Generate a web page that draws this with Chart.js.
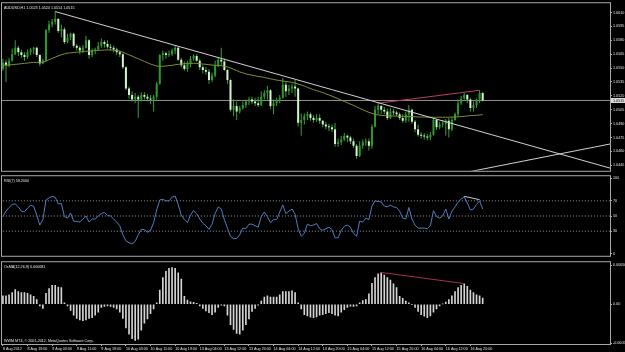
<!DOCTYPE html>
<html>
<head>
<meta charset="utf-8">
<script src="https://cdn.jsdelivr.net/npm/chart.js@4.4.1/dist/chart.umd.min.js"></script>
<style>
  html, body { margin: 0; padding: 0; background: #000; }
  #wrap { position: relative; width: 625px; height: 352px; overflow: hidden; background: #000; }
  canvas { position: absolute; left: 0; }
</style>
</head>
<body>
<div id="wrap">
  <canvas id="main" width="625" height="174" style="top:0"></canvas>
  <canvas id="rsi" width="625" height="86" style="top:173px"></canvas>
  <canvas id="osma" width="625" height="93" style="top:259px"></canvas>
</div>
<script>
'use strict';

// AUDUSD H1 bars, 8 Aug 2012 .. 16 Aug 2012
const open = [1.0549,1.0556,1.0553,1.0558,1.0565,1.0572,1.0567,1.0564,1.0562,1.0567,
  1.0570,1.0572,1.0564,1.0555,1.0558,1.0591,1.0597,1.0600,1.0603,1.0590,
  1.0592,1.0578,1.0583,1.0587,1.0574,1.0572,1.0569,1.0572,1.0580,1.0564,
  1.0569,1.0570,1.0574,1.0578,1.0576,1.0573,1.0572,1.0570,1.0567,1.0565,
  1.0551,1.0528,1.0521,1.0516,1.0519,1.0516,1.0521,1.0519,1.0517,1.0516,
  1.0519,1.0533,1.0564,1.0566,1.0564,1.0565,1.0569,1.0572,1.0559,1.0553,
  1.0549,1.0555,1.0560,1.0563,1.0558,1.0551,1.0548,1.0546,1.0537,1.0542,
  1.0553,1.0559,1.0557,1.0548,1.0537,1.0505,1.0509,1.0503,1.0507,1.0510,
  1.0514,1.0516,1.0514,1.0512,1.0510,1.0519,1.0523,1.0526,1.0509,1.0512,
  1.0516,1.0518,1.0532,1.0525,1.0528,1.0530,1.0528,1.0491,1.0494,1.0498,
  1.0500,1.0496,1.0494,1.0496,1.0493,1.0489,1.0487,1.0486,1.0484,1.0468,
  1.0470,1.0473,1.0477,1.0475,1.0471,1.0466,1.0455,1.0466,1.0470,1.0471,
  1.0466,1.0487,1.0505,1.0509,1.0505,1.0503,1.0496,1.0503,1.0502,1.0500,
  1.0496,1.0493,1.0500,1.0505,1.0492,1.0484,1.0478,1.0477,1.0476,1.0475,
  1.0478,1.0494,1.0486,1.0489,1.0490,1.0493,1.0484,1.0494,1.0500,1.0512,
  1.0517,1.0521,1.0516,1.0507,1.0510,1.0516,1.0523];
const high = [1.0560,1.0559,1.0561,1.0571,1.0580,1.0574,1.0570,1.0567,1.0570,1.0572,
  1.0573,1.0573,1.0565,1.0560,1.0592,1.0601,1.0603,1.0611,1.0604,1.0597,
  1.0594,1.0587,1.0588,1.0588,1.0576,1.0574,1.0575,1.0585,1.0581,1.0571,
  1.0572,1.0578,1.0582,1.0580,1.0580,1.0576,1.0574,1.0572,1.0569,1.0566,
  1.0552,1.0530,1.0525,1.0523,1.0521,1.0524,1.0524,1.0522,1.0521,1.0521,
  1.0535,1.0565,1.0569,1.0568,1.0569,1.0571,1.0575,1.0573,1.0561,1.0557,
  1.0558,1.0563,1.0565,1.0565,1.0560,1.0553,1.0551,1.0549,1.0545,1.0558,
  1.0562,1.0572,1.0560,1.0549,1.0538,1.0516,1.0514,1.0509,1.0514,1.0516,
  1.0519,1.0519,1.0518,1.0519,1.0525,1.0526,1.0531,1.0527,1.0516,1.0518,
  1.0521,1.0539,1.0535,1.0532,1.0533,1.0537,1.0529,1.0501,1.0501,1.0503,
  1.0502,1.0499,1.0500,1.0500,1.0494,1.0492,1.0490,1.0489,1.0491,1.0474,
  1.0477,1.0480,1.0478,1.0477,1.0474,1.0468,1.0471,1.0473,1.0474,1.0474,
  1.0489,1.0509,1.0512,1.0510,1.0508,1.0506,1.0507,1.0506,1.0504,1.0502,
  1.0500,1.0503,1.0510,1.0506,1.0494,1.0489,1.0481,1.0480,1.0479,1.0481,
  1.0496,1.0495,1.0492,1.0494,1.0495,1.0496,1.0497,1.0502,1.0516,1.0520,
  1.0523,1.0522,1.0518,1.0514,1.0517,1.0526,1.0524];
const low = [1.0547,1.0535,1.0551,1.0557,1.0564,1.0563,1.0561,1.0558,1.0560,1.0564,
  1.0565,1.0562,1.0552,1.0554,1.0557,1.0588,1.0594,1.0597,1.0588,1.0583,
  1.0576,1.0577,1.0580,1.0572,1.0569,1.0565,1.0566,1.0571,1.0560,1.0562,
  1.0565,1.0569,1.0572,1.0572,1.0571,1.0569,1.0567,1.0564,1.0562,1.0549,
  1.0526,1.0517,1.0514,1.0512,1.0496,1.0514,1.0516,1.0514,1.0511,1.0503,
  1.0516,1.0532,1.0558,1.0560,1.0562,1.0563,1.0565,1.0558,1.0551,1.0547,
  1.0546,1.0551,1.0558,1.0557,1.0548,1.0544,1.0543,1.0533,1.0535,1.0540,
  1.0551,1.0553,1.0547,1.0533,1.0503,1.0498,1.0494,1.0501,1.0505,1.0507,
  1.0510,1.0511,1.0509,1.0508,1.0509,1.0516,1.0516,1.0506,1.0500,1.0509,
  1.0512,1.0517,1.0519,1.0521,1.0523,1.0519,1.0487,1.0477,1.0489,1.0494,
  1.0493,1.0491,1.0492,1.0490,1.0486,1.0484,1.0482,1.0481,1.0465,1.0465,
  1.0467,1.0471,1.0470,1.0468,1.0464,1.0452,1.0454,1.0463,1.0466,1.0461,
  1.0463,1.0486,1.0500,1.0500,1.0500,1.0494,1.0495,1.0499,1.0498,1.0494,
  1.0491,1.0491,1.0492,1.0490,1.0481,1.0476,1.0474,1.0473,1.0472,1.0472,
  1.0477,1.0483,1.0484,1.0486,1.0477,1.0475,1.0482,1.0493,1.0498,1.0510,
  1.0516,1.0512,1.0503,1.0503,1.0507,1.0512,1.0514];
const close = [1.0556,1.0553,1.0558,1.0565,1.0572,1.0567,1.0564,1.0562,1.0567,1.0570,
  1.0572,1.0564,1.0555,1.0558,1.0591,1.0597,1.0600,1.0603,1.0590,1.0592,
  1.0578,1.0583,1.0587,1.0574,1.0572,1.0569,1.0572,1.0580,1.0564,1.0569,
  1.0570,1.0574,1.0578,1.0576,1.0573,1.0572,1.0570,1.0567,1.0565,1.0551,
  1.0528,1.0521,1.0516,1.0519,1.0516,1.0521,1.0519,1.0517,1.0516,1.0519,
  1.0533,1.0564,1.0566,1.0564,1.0565,1.0569,1.0572,1.0559,1.0553,1.0549,
  1.0555,1.0560,1.0563,1.0558,1.0551,1.0548,1.0546,1.0537,1.0542,1.0553,
  1.0559,1.0557,1.0548,1.0537,1.0505,1.0509,1.0503,1.0507,1.0510,1.0514,
  1.0516,1.0514,1.0512,1.0510,1.0519,1.0523,1.0526,1.0509,1.0512,1.0516,
  1.0518,1.0532,1.0525,1.0528,1.0530,1.0528,1.0491,1.0494,1.0498,1.0500,
  1.0496,1.0494,1.0496,1.0493,1.0489,1.0487,1.0486,1.0484,1.0468,1.0470,
  1.0473,1.0477,1.0475,1.0471,1.0466,1.0455,1.0466,1.0470,1.0471,1.0466,
  1.0487,1.0505,1.0509,1.0505,1.0503,1.0496,1.0503,1.0502,1.0500,1.0496,
  1.0493,1.0500,1.0505,1.0492,1.0484,1.0478,1.0477,1.0476,1.0475,1.0478,
  1.0494,1.0486,1.0489,1.0490,1.0493,1.0484,1.0494,1.0500,1.0512,1.0517,
  1.0521,1.0516,1.0507,1.0510,1.0516,1.0523,1.0515];

// moving average drawn on the price window
const ma = [1.05529,1.05531,1.05533,1.05536,1.05540,1.05543,1.05547,1.05551,1.05554,1.05558,
  1.05561,1.05561,1.05561,1.05565,1.05576,1.05590,1.05604,1.05618,1.05632,1.05643,
  1.05653,1.05661,1.05664,1.05668,1.05671,1.05675,1.05678,1.05682,1.05684,1.05685,
  1.05689,1.05691,1.05692,1.05694,1.05696,1.05696,1.05692,1.05689,1.05682,1.05671,
  1.05657,1.05643,1.05629,1.05614,1.05600,1.05586,1.05572,1.05558,1.05543,1.05533,
  1.05522,1.05519,1.05519,1.05522,1.05526,1.05529,1.05536,1.05540,1.05543,1.05547,
  1.05551,1.05551,1.05551,1.05551,1.05547,1.05543,1.05540,1.05536,1.05533,1.05529,
  1.05529,1.05526,1.05519,1.05512,1.05501,1.05487,1.05473,1.05458,1.05448,1.05437,
  1.05430,1.05423,1.05416,1.05409,1.05405,1.05398,1.05391,1.05384,1.05377,1.05370,
  1.05366,1.05359,1.05355,1.05352,1.05345,1.05338,1.05327,1.05317,1.05306,1.05292,
  1.05278,1.05267,1.05256,1.05246,1.05235,1.05221,1.05210,1.05196,1.05182,1.05168,
  1.05153,1.05139,1.05125,1.05111,1.05097,1.05082,1.05065,1.05051,1.05036,1.05022,
  1.05011,1.05001,1.04994,1.04990,1.04987,1.04985,1.04983,1.04983,1.04981,1.04979,
  1.04979,1.04978,1.04976,1.04976,1.04974,1.04972,1.04972,1.04971,1.04969,1.04969,
  1.04969,1.04969,1.04969,1.04969,1.04969,1.04969,1.04971,1.04972,1.04974,1.04976,
  1.04979,1.04983,1.04987,1.04988,1.04990,1.04994,1.04997];

const rsi = [49.2,56.4,61.2,65.2,66.0,62.0,56.4,55.6,60.4,64.0,
  62.8,51.2,38.0,45.2,71.2,74.0,76.0,74.8,66.0,66.4,
  49.2,47.2,54.0,43.2,42.8,42.0,46.0,50.0,42.0,46.0,
  46.0,50.0,53.2,54.8,50.8,50.0,46.0,42.0,37.2,25.2,
  17.2,14.8,13.2,16.4,25.2,32.4,32.0,28.4,31.2,41.2,
  58.0,71.2,72.0,70.0,70.0,74.8,76.4,65.2,51.2,45.2,
  41.2,51.2,57.2,53.2,46.0,40.4,37.2,32.4,39.2,53.2,
  62.0,59.2,45.2,34.0,23.2,20.0,20.4,25.2,34.0,33.2,
  39.2,39.2,37.2,35.2,49.2,55.2,49.2,41.2,45.2,45.2,
  55.2,64.4,53.2,56.4,59.2,52.4,33.2,23.2,27.2,39.2,
  37.2,38.0,40.0,33.2,31.2,33.2,35.2,32.0,21.2,21.2,
  31.2,36.4,38.0,35.2,27.2,23.2,43.2,42.0,47.2,45.2,
  63.2,70.0,69.2,68.4,63.2,62.0,64.4,62.0,61.2,56.4,
  47.2,46.0,61.2,46.0,38.0,34.0,34.0,34.0,33.2,37.2,
  57.2,49.2,47.2,50.0,59.2,46.0,56.4,62.0,68.4,72.4,
  75.2,67.2,58.0,59.2,65.2,70.0,59.2];

// OsMA(12,26,9) histogram, in millionths
const osmaMicro = [110,110,122,150,191,163,150,150,142,122,
  102,61,-20,-53,142,203,244,244,224,215,
  20,-20,-81,-142,-183,-203,-211,-203,-183,-175,
  -142,-102,-41,-28,-20,-28,-41,-61,-102,-183,
  -305,-386,-447,-467,-451,-337,-244,-191,-122,-61,
  20,183,346,427,467,476,467,407,325,102,
  53,33,24,12,-20,-53,-85,-110,-134,-102,
  -41,-12,-20,-142,-264,-325,-378,-386,-337,-264,
  -191,-93,-53,-12,41,93,110,93,93,93,
  122,163,163,163,175,150,20,-61,-134,-150,
  -167,-175,-163,-142,-134,-122,-110,-122,-142,-150,
  -102,-69,-41,-24,-28,-20,20,49,61,134,
  272,346,394,407,378,346,313,264,215,102,
  77,41,20,-4,-41,-93,-134,-154,-175,-150,
  -102,-61,-20,4,28,61,110,163,215,244,
  264,232,183,150,122,110,81];
const osma = osmaMicro.map(v => v / 1e6);

// hand drawn objects: [barIndex, value] end points
const trendDown = [[17, 1.0611], [197.4, 1.0442]];
const trendUp = [[150, 1.0437], [197.4, 1.0468]];
const priceDiv = [[122, 1.0512], [155, 1.0526]];
const rsiDiv = [[150, 76], [155, 71.5]];
const osmaDiv = [[123, 0.000412], [150, 0.000268]];

const bid = 1.0515;
const priceTicks = [1.0445, 1.0460, 1.0475, 1.0490, 1.0505, 1.0520, 1.0535, 1.0550, 1.0565, 1.0580, 1.0595, 1.0610];
const rsiTicks = [0, 30, 50, 70, 100];
const rsiLevels = [30, 50, 70];
const osmaTicks = [-0.000506, 0, 0.000506];
const timeLabels = ['8 Aug 2012', '8 Aug 19:00', '9 Aug 03:00', '9 Aug 11:00', '9 Aug 19:00',
  '10 Aug 03:00', '10 Aug 11:00', '10 Aug 19:00', '13 Aug 04:00', '13 Aug 12:00',
  '13 Aug 20:00', '14 Aug 04:00', '14 Aug 12:00', '14 Aug 20:00', '15 Aug 04:00',
  '15 Aug 12:00', '15 Aug 20:00', '16 Aug 04:00', '16 Aug 12:00', '16 Aug 20:00'];
const labelStep = 8;

const family = '"Liberation Sans", Arial, sans-serif';
const fontSize = 3.7;
Chart.defaults.font.family = family;
Chart.defaults.font.size = fontSize;
Chart.defaults.color = '#e0e0e0';
Chart.defaults.animation = false;
Chart.defaults.events = [];
Chart.defaults.plugins.legend.display = false;
Chart.defaults.plugins.tooltip.enabled = false;

const last = a => a[a.length - 1];
const pts = a => a.map(([x, y]) => ({x, y}));
const series = a => a.map((y, x) => ({x, y}));

function seg(data, color, order, dash) {
  return {type: 'line', data: pts(data), borderColor: color, borderWidth: 1,
    borderDash: dash || [], pointRadius: 0, tension: 0, order};
}

const paneFrame = {
  id: 'paneFrame',
  afterDraw(chart, args, o) {
    const {ctx, chartArea: a} = chart;
    ctx.save();
    ctx.strokeStyle = '#a8a8a8';
    ctx.lineWidth = 1;
    ctx.strokeRect(a.left - 0.5, a.top - 0.5, a.right - a.left + 1, a.bottom - a.top + 1);
    ctx.fillStyle = '#e6e6e6';
    ctx.font = fontSize + 'px ' + family;
    ctx.textBaseline = 'top';
    if (o.title) ctx.fillText(o.title, a.left + 2, a.top + 3);
    if (o.note) {
      ctx.textBaseline = 'bottom';
      ctx.fillText(o.note, a.left + 2, a.bottom - 1);
    }
    if (o.bid) {
      const y = chart.scales.y.getPixelForValue(o.bid);
      ctx.fillStyle = '#dcdcdc';
      ctx.fillRect(a.right + 1, Math.round(y) - 2, 15, 5);
      ctx.fillStyle = '#000';
      ctx.textBaseline = 'middle';
      ctx.fillText(o.bid.toFixed(4), a.right + 3, y + 0.5);
    }
    ctx.restore();
  }
};

function xAxis(show) {
  return {
    type: 'linear', min: -0.3, max: 197.4, offset: false, display: show,
    grid: {display: show, offset: false, drawOnChartArea: false, drawTicks: true, tickLength: 2, color: '#a8a8a8'},
    border: {display: false},
    afterBuildTicks: s => { s.ticks = timeLabels.map((t, k) => ({value: k * labelStep})); },
    afterFit: s => { if (show) s.height = 8; },
    ticks: {align: 'start', padding: 1, maxRotation: 0, autoSkip: false, color: '#e0e0e0',
      callback: (v, i) => timeLabels[i]}
  };
}

function yAxis(min, max, ticks, fmt) {
  return {
    position: 'right', min, max,
    afterBuildTicks: s => { s.ticks = ticks.map(v => ({value: v})); },
    afterFit: s => { s.width = 15; },
    grid: {drawOnChartArea: false, drawTicks: true, tickLength: 2, color: '#a8a8a8'},
    border: {display: true, color: '#a8a8a8'},
    ticks: {padding: 1, autoSkip: false, color: '#e0e0e0', callback: fmt}
  };
}

const bull = i => close[i] >= open[i];

new Chart(document.getElementById('main'), {
  type: 'bar',
  data: {
    datasets: [
      seg(trendDown, '#d0d0d0', 0),
      seg(trendUp, '#d0d0d0', 0),
      seg(priceDiv, '#b8406a', 0),
      {type: 'line', data: series(ma), borderColor: '#7f9030', borderWidth: 1, pointRadius: 0, order: 1},
      {data: open.map((o, i) => ({x: i, y: [o, close[i]]})), grouped: false, maxBarThickness: 2, minBarLength: 1,
        backgroundColor: ctx => bull(ctx.dataIndex) ? '#2c9a2c' : '#d6f2cf', order: 2},
      {data: low.map((l, i) => ({x: i, y: [l, high[i]]})), grouped: false, maxBarThickness: 1,
        backgroundColor: '#34a334', order: 3},
      seg([[-1, bid], [200, bid]], '#8e8e8e', 4)
    ]
  },
  options: {
    responsive: false,
    layout: {padding: {top: 2, bottom: 2, left: 2, right: 0}},
    scales: {
      x: xAxis(false),
      y: yAxis(1.04391, 1.0620, priceTicks, v => v.toFixed(4))
    },
    plugins: {paneFrame: {
      title: 'AUDUSD,H1 ' + [open, high, low, close].map(a => last(a).toFixed(4)).join(' '),
      bid
    }}
  },
  plugins: [paneFrame]
});

new Chart(document.getElementById('rsi'), {
  type: 'line',
  data: {
    datasets: [
      seg(rsiDiv, '#c8c8c8', 0),
      {data: series(rsi), borderColor: '#4f7fbf', borderWidth: 1, pointRadius: 0, tension: 0, order: 1},
      ...rsiLevels.map(l => seg([[-1, l], [200, l]], '#9a9a9a', 2, [1, 2]))
    ]
  },
  options: {
    responsive: false,
    layout: {padding: {top: 1, bottom: 1, left: 2, right: 0}},
    scales: {
      x: xAxis(false),
      y: yAxis(-2.5, 102.5, rsiTicks, v => String(v))
    },
    plugins: {paneFrame: {title: 'RSI(7) ' + last(rsi).toFixed(4)}}
  },
  plugins: [paneFrame]
});

new Chart(document.getElementById('osma'), {
  type: 'bar',
  data: {
    datasets: [
      seg(osmaDiv, '#a83050', 0),
      {data: series(osma), barThickness: 1, backgroundColor: '#d4d4d4', order: 1}
    ]
  },
  options: {
    responsive: false,
    layout: {padding: {top: 1, bottom: 0, left: 2, right: 0}},
    scales: {
      x: xAxis(true),
      y: yAxis(-0.000515, 0.000545, osmaTicks, v => v === 0 ? '0.00' : v.toFixed(6))
    },
    plugins: {paneFrame: {
      title: 'OsMA(12,26,9) ' + last(osma).toFixed(6),
      note: 'WWM MT4, \u00a9 2001-2012, MetaQuotes Software Corp.'
    }}
  },
  plugins: [paneFrame]
});
</script>
</body>
</html>
